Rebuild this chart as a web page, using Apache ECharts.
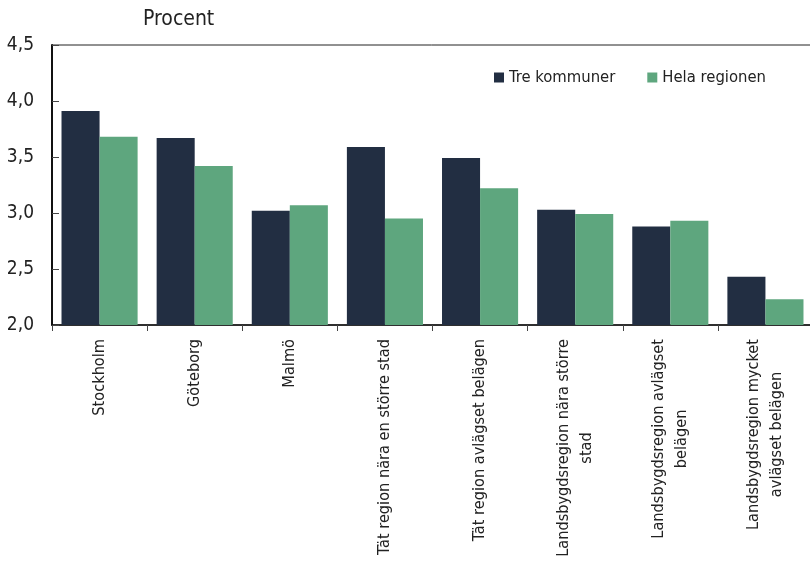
<!DOCTYPE html>
<html><head><meta charset="utf-8">
<script src="https://cdn.jsdelivr.net/npm/echarts@6/dist/echarts.min.js"></script>
<style>html,body{margin:0;padding:0;background:#fff}#c{width:810px;height:563px}</style>
</head><body><div id="c"></div>
<script>
const categories = ["Stockholm","Göteborg","Malmö","Tät region nära en större stad","Tät region avlägset belägen","Landsbygdsregion nära större\nstad","Landsbygdsregion avlägset\nbelägen","Landsbygdsregion mycket\navlägset belägen"];
const treKommuner = [3.91, 3.67, 3.02, 3.59, 3.49, 3.03, 2.88, 2.43];
const helaRegionen = [3.68, 3.42, 3.07, 2.95, 3.22, 2.99, 2.93, 2.23];
const seriesNames = ["Tre kommuner","Hela regionen"];
const FONT = "'Liberation Sans Narrow','DejaVu Sans Condensed','Roboto Condensed',sans-serif";
const chart = echarts.init(document.getElementById('c'));
chart.setOption({
  animation:false,
  textStyle:{fontFamily:FONT},
  title:{text:'Procent',left:138,top:4,textStyle:{fontFamily:FONT,fontSize:21,fontWeight:'normal',color:'#222'}},
  legend:{left:489,top:64,itemWidth:10,itemHeight:10,itemGap:32,icon:'rect',
    textStyle:{fontFamily:FONT,fontSize:16.5,color:'#222'},data:seriesNames},
  grid:{left:52,top:45,bottom:238,right:-3,show:true,borderColor:'#222',borderWidth:1,outerBoundsMode:'none',containLabel:false},
  xAxis:{type:'category',data:categories,
    axisLine:{lineStyle:{color:'#111',width:1.5}},
    axisTick:{show:true,length:6,lineStyle:{color:'#444'}},
    axisLabel:{interval:0,rotate:90,margin:14,color:'#222',fontFamily:FONT,fontSize:16.2,lineHeight:23,
      formatter:function(v){return v.split('\n').map(function(s){return '{c|'+s+'}';}).join('\n');},
      rich:{c:{align:'center',fontFamily:FONT,fontSize:16.2,lineHeight:23,color:'#222'}}}},
  yAxis:{type:'value',min:2,max:4.5,interval:0.5,
    axisLine:{show:true,lineStyle:{color:'#111',width:2}},
    axisTick:{show:true,inside:true,length:7,lineStyle:{color:'#444'}},
    splitLine:{show:false},
    axisLabel:{color:'#222',fontFamily:FONT,fontSize:19,margin:18,formatter:function(v){return v.toFixed(1).replace('.',',');}}},
  series:[
    {name:seriesNames[0],type:'bar',data:treKommuner,barGap:'0%',barCategoryGap:'20%',itemStyle:{color:'#222e42'}},
    {name:seriesNames[1],type:'bar',data:helaRegionen,itemStyle:{color:'#5ea67e'}}
  ]
});
</script></body></html>
